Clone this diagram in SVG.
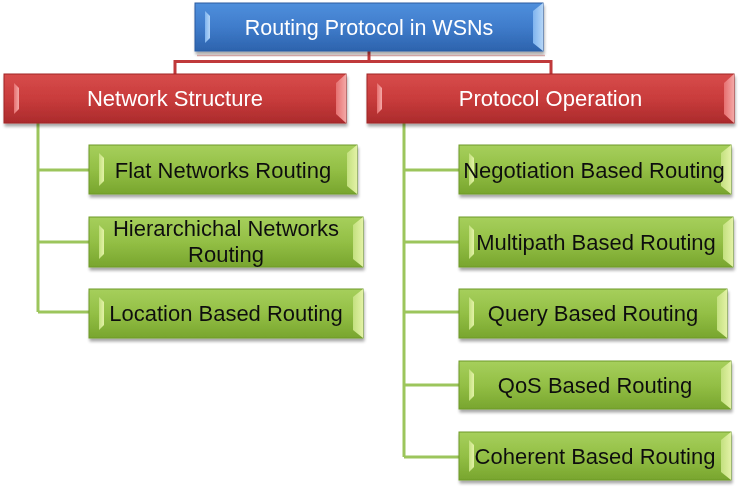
<svg xmlns="http://www.w3.org/2000/svg" width="744" height="488" viewBox="0 0 744 488">
<defs>
<linearGradient id="gBlue" x1="0" y1="0" x2="0" y2="1">
<stop offset="0" stop-color="#4f8fdc"/><stop offset="0.5" stop-color="#3f7ccb"/><stop offset="1" stop-color="#2d63ad"/>
</linearGradient>
<linearGradient id="gRed" x1="0" y1="0" x2="0" y2="1">
<stop offset="0" stop-color="#d74c4b"/><stop offset="0.5" stop-color="#c93c3c"/><stop offset="1" stop-color="#ab2b2c"/>
</linearGradient>
<linearGradient id="gGreen" x1="0" y1="0" x2="0" y2="1">
<stop offset="0" stop-color="#a6cf5c"/><stop offset="0.5" stop-color="#93bf45"/><stop offset="1" stop-color="#78a52e"/>
</linearGradient>
<linearGradient id="bBlue" x1="0" y1="0" x2="1" y2="0">
<stop offset="0" stop-color="#7fb4ef"/><stop offset="1" stop-color="#b5d6f7"/>
</linearGradient>
<linearGradient id="bRed" x1="0" y1="0" x2="1" y2="0">
<stop offset="0" stop-color="#e67070"/><stop offset="1" stop-color="#f4a8a6"/>
</linearGradient>
<linearGradient id="bGreen" x1="0" y1="0" x2="1" y2="0">
<stop offset="0" stop-color="#c3e07f"/><stop offset="1" stop-color="#e3f2a6"/>
</linearGradient>
<filter id="sh" x="-5%" y="-20%" width="110%" height="150%">
<feGaussianBlur in="SourceAlpha" stdDeviation="1.5"/>
<feOffset dx="1" dy="2.5" result="b"/>
<feComponentTransfer><feFuncA type="linear" slope="0.35"/></feComponentTransfer>
<feMerge><feMergeNode/><feMergeNode in="SourceGraphic"/></feMerge>
</filter>
</defs>
<style>
.t{font-family:"Liberation Sans",Arial,sans-serif;font-size:22px;text-anchor:middle}
.w{fill:#ffffff}
.k{fill:#111111}
.blue{fill:url(#gBlue);stroke:#2a5ba0;stroke-width:1}
.red{fill:url(#gRed);stroke:#9f2627;stroke-width:1}
.green{fill:url(#gGreen);stroke:#6f9a2a;stroke-width:1}
.bb{fill:url(#bBlue)}
.br{fill:url(#bRed)}
.bg{fill:url(#bGreen)}
.cr{fill:none;stroke:#c0393b;stroke-width:3}
.cg{fill:none;stroke:#9cc55c;stroke-width:3}
</style>

<g id="connectors">
<path d="M197,55.5 H545" fill="none" stroke="#e4b3b3" stroke-width="1.5"/>
<path class="cr" d="M369,51 V61.5 M175,74 V61.5 H551 V74"/>
<path class="cg" d="M38,123 V312 M38,170 H90 M38,242 H90 M38,312 H90"/>
<path class="cg" d="M404,123 V457 M404,170 H460 M404,242 H460 M404,312 H460 M404,385 H460 M404,457 H460"/>
</g>

<g id="root" filter="url(#sh)">
<rect class="blue" x="195" y="3" width="348" height="48"/>
<polygon class="bb" points="205,11 210,16 210,38 205,43"/>
<polygon class="bb" points="533,11 543,3 543,51 533,43"/>
<text class="t w" x="369" y="34.5" style="font-size:21.5px">Routing Protocol in WSNs</text>
</g>

<g id="network-structure" filter="url(#sh)">
<rect class="red" x="4" y="74" width="342" height="49"/>
<polygon class="br" points="14,83 19,88 19,109 14,114"/>
<polygon class="br" points="336,83 346,74 346,123 336,114"/>
<text class="t w" x="175" y="106">Network Structure</text>
</g>

<g id="protocol-operation" filter="url(#sh)">
<rect class="red" x="367" y="74" width="367" height="49"/>
<polygon class="br" points="377,83 382,88 382,109 377,114"/>
<polygon class="br" points="724,83 734,74 734,123 724,114"/>
<text class="t w" x="550.5" y="106">Protocol Operation</text>
</g>

<g id="flat" filter="url(#sh)">
<rect class="green" x="89" y="145" width="268" height="49"/>
<polygon class="bg" points="99,153 104,158 104,181 99,186"/>
<polygon class="bg" points="347,153 357,145 357,194 347,186"/>
<text class="t k" x="223" y="177.5">Flat Networks Routing</text>
</g>

<g id="hierarchical" filter="url(#sh)">
<rect class="green" x="89" y="217" width="274" height="50"/>
<polygon class="bg" points="99,225 104,230 104,254 99,259"/>
<polygon class="bg" points="353,225 363,217 363,267 353,259"/>
<text class="t k" x="226" y="236">Hierarchichal Networks</text>
<text class="t k" x="226" y="262">Routing</text>
</g>

<g id="location" filter="url(#sh)">
<rect class="green" x="89" y="289" width="274" height="49"/>
<polygon class="bg" points="99,297 104,302 104,325 99,330"/>
<polygon class="bg" points="353,297 363,289 363,338 353,330"/>
<text class="t k" x="226" y="321">Location Based Routing</text>
</g>

<g id="negotiation" filter="url(#sh)">
<rect class="green" x="459" y="145" width="272" height="49"/>
<polygon class="bg" points="469,153 474,158 474,181 469,186"/>
<polygon class="bg" points="721,153 731,145 731,194 721,186"/>
<text class="t k" x="594" y="177.5">Negotiation Based Routing</text>
</g>

<g id="multipath" filter="url(#sh)">
<rect class="green" x="459" y="217" width="274" height="50"/>
<polygon class="bg" points="469,225 474,230 474,254 469,259"/>
<polygon class="bg" points="723,225 733,217 733,267 723,259"/>
<text class="t k" x="596" y="249.5">Multipath Based Routing</text>
</g>

<g id="query" filter="url(#sh)">
<rect class="green" x="459" y="289" width="268" height="49"/>
<polygon class="bg" points="469,297 474,302 474,325 469,330"/>
<polygon class="bg" points="717,297 727,289 727,338 717,330"/>
<text class="t k" x="593" y="321">Query Based Routing</text>
</g>

<g id="qos" filter="url(#sh)">
<rect class="green" x="459" y="361" width="272" height="48"/>
<polygon class="bg" points="469,369 474,374 474,396 469,401"/>
<polygon class="bg" points="721,369 731,361 731,409 721,401"/>
<text class="t k" x="595" y="392.5">QoS Based Routing</text>
</g>

<g id="coherent" filter="url(#sh)">
<rect class="green" x="459" y="432" width="272" height="48"/>
<polygon class="bg" points="469,440 474,445 474,467 469,472"/>
<polygon class="bg" points="721,440 731,432 731,480 721,472"/>
<text class="t k" x="595" y="463.5">Coherent Based Routing</text>
</g>
</svg>
